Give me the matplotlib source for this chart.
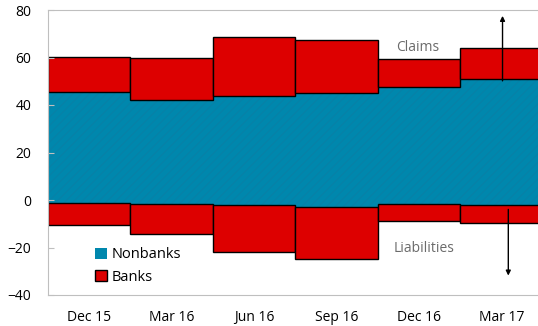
import numpy as np
import matplotlib.pyplot as plt
from matplotlib.patches import Patch

quarters = ['Dec 15', 'Mar 16', 'Jun 16', 'Sep 16', 'Dec 16', 'Mar 17']
nonbanks_claims = [45.3, 42.1, 43.8, 45.2, 47.4, 50.9]
banks_claims = [14.8, 17.5, 24.7, 22.2, 12.0, 13.0]
nonbanks_liab = [-1.4, -1.7, -2.1, -2.8, -1.7, -2.1]
banks_liab = [-9.3, -12.6, -19.9, -22.2, -7.1, -7.4]

teal = '#0087AD'
red = '#DD0000'

plt.rcParams['font.family'] = ['Open Sans', 'DejaVu Sans']
plt.rcParams['hatch.linewidth'] = 0.6

fig = plt.figure(figsize=(5.38, 3.26), dpi=100)
ax = fig.add_axes([48 / 538, 31 / 326, 1 - 48 / 538, 285 / 326])

x = np.arange(len(quarters))
ax.bar(x, nonbanks_claims, width=1.0, color=teal, hatch='////', edgecolor='#0a80a6', linewidth=0)
ax.bar(x, nonbanks_liab, width=1.0, color=teal, hatch='////', edgecolor='#0a80a6', linewidth=0)
ax.bar(x, banks_claims, bottom=nonbanks_claims, width=1.0, color=red, edgecolor='black', linewidth=1.0)
ax.bar(x, banks_liab, bottom=nonbanks_liab, width=1.0, color=red, edgecolor='black', linewidth=1.0)

# arrows on the last quarter
ax.annotate('', xy=(5.01, 78.7), xytext=(5.01, 49),
            arrowprops=dict(arrowstyle='-|>', color='black', lw=1, mutation_scale=7))
ax.annotate('', xy=(5.08, -33), xytext=(5.08, -2.8),
            arrowprops=dict(arrowstyle='-|>', color='black', lw=1, mutation_scale=7))
ax.text(3.98, 64.4, 'Claims', ha='center', va='center', fontsize=10, color='#6b6b6b')
ax.text(4.06, -20.6, 'Liabilities', ha='center', va='center', fontsize=10, color='#6b6b6b')

ax.set_xlim(-0.5, 5.44)
ax.set_ylim(-40, 80)
ax.set_yticks([-40, -20, 0, 20, 40, 60, 80])
ax.set_xticks(x)
ax.set_xticklabels(quarters)
ax.tick_params(axis='x', length=0, pad=11, labelsize=10, colors='black')
ax.tick_params(axis='y', direction='in', length=4, color='#BFBFBF', labelsize=10, pad=12)
for s in ['top', 'left', 'bottom']:
    ax.spines[s].set_color('#BFBFBF')
ax.spines['right'].set_visible(False)

handles = [Patch(facecolor=teal, edgecolor='none', label='Nonbanks'),
           Patch(facecolor=red, edgecolor='black', label='Banks')]
ax.legend(handles=handles, loc='lower left', bbox_to_anchor=(0.07, -0.01), frameon=False,
          fontsize=10.5, handlelength=0.8, handleheight=0.8, handletextpad=0.3, labelspacing=0.5)

plt.savefig('out.png', dpi=100)
